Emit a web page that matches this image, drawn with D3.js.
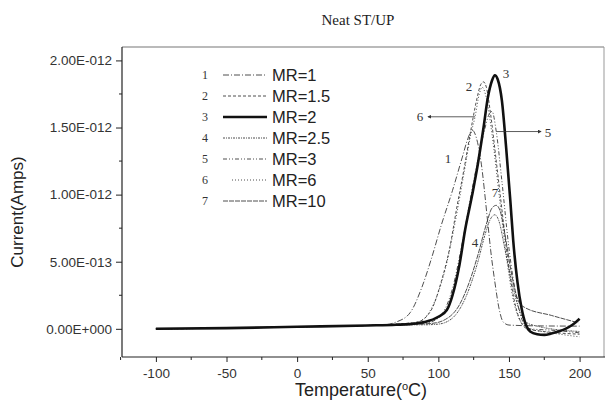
<!DOCTYPE html>
<html>
<head>
<meta charset="utf-8">
<script src="https://cdnjs.cloudflare.com/ajax/libs/d3/7.8.5/d3.min.js"></script>
<style>
  body { margin: 0; background: #fff; }
  svg { display: block; }
</style>
</head>
<body>
<svg id="chart" width="605" height="400"></svg>
<script>
// values in units of 1e-12 A
var UNIT = 1e-12;
var baseT = [-100, -50, 0, 50];
var baseV = [0.0, 0.005, 0.015, 0.025];

var seriesNames = ["MR=1", "MR=1.5", "MR=2", "MR=2.5", "MR=3", "MR=6", "MR=10"];
var seriesIds = ["1", "2", "3", "4", "5", "6", "7"];

var t1 = [62, 70, 80, 88, 95, 102, 110, 117, 121, 124, 127, 130, 135, 137, 140, 143, 146, 150, 170, 200];
var v1 = [0.03, 0.05, 0.12, 0.3, 0.52, 0.77, 1.03, 1.28, 1.42, 1.48, 1.42, 1.26, 0.79, 0.59, 0.35, 0.15, 0.05, 0.028, 0.022, 0.02];

var t2 = [70, 85, 95, 102, 108, 113, 118, 123, 127, 130, 132, 134, 137, 141, 146, 150, 154, 158, 163, 175, 200];
var v2 = [0.035, 0.05, 0.14, 0.35, 0.6, 0.9, 1.18, 1.48, 1.7, 1.82, 1.84, 1.8, 1.6, 1.25, 0.8, 0.45, 0.2, 0.06, 0.0, -0.02, -0.04];

var t3 = [70, 80, 90, 100, 106, 110, 115, 119, 124, 128, 132, 135, 138, 140, 142, 145, 148, 151, 153, 156, 159, 162, 165, 170, 175, 180, 185, 190, 195, 200];
var v3 = [0.03, 0.035, 0.05, 0.09, 0.14, 0.25, 0.48, 0.74, 1.0, 1.23, 1.5, 1.72, 1.85, 1.89, 1.86, 1.7, 1.35, 0.95, 0.66, 0.35, 0.15, 0.03, -0.02, -0.04, -0.045, -0.035, -0.02, 0.0, 0.03, 0.075];

var t4 = [70, 90, 100, 110, 120, 128, 133, 137, 140, 143, 147, 152, 157, 162, 170, 200];
var v4 = [0.03, 0.03, 0.035, 0.08, 0.25, 0.5, 0.7, 0.82, 0.85, 0.8, 0.6, 0.35, 0.15, 0.05, 0.02, -0.02];

var t5 = [70, 90, 100, 110, 118, 125, 132, 136, 138, 141, 145, 150, 155, 160, 165, 180, 200];
var v5 = [0.03, 0.04, 0.08, 0.3, 0.7, 1.1, 1.45, 1.6, 1.62, 1.47, 1.1, 0.6, 0.25, 0.05, 0.0, -0.01, -0.03];

var t6 = [70, 85, 95, 105, 112, 118, 123, 126, 129, 131, 134, 138, 143, 148, 153, 158, 165, 180, 200];
var v6 = [0.035, 0.05, 0.15, 0.45, 0.8, 1.15, 1.45, 1.58, 1.75, 1.8, 1.72, 1.45, 1.0, 0.55, 0.22, 0.06, 0.0, -0.03, -0.06];

var t7 = [70, 95, 105, 115, 122, 128, 134, 138, 141, 144, 148, 152, 157, 161, 180, 199];
var v7 = [0.03, 0.04, 0.07, 0.18, 0.35, 0.55, 0.78, 0.9, 0.92, 0.87, 0.65, 0.4, 0.2, 0.16, 0.1, 0.045];

var seriesT = [t1, t2, t3, t4, t5, t6, t7];
var seriesV = [v1, v2, v3, v4, v5, v6, v7];
var dashes = ["6,2,1,2", "3,2", null, "2,1,1,1", "4,2,1,2,1,2", "1,2", "5,1"];

var xTicks = [-100, -50, 0, 50, 100, 150, 200];
var yTicks = [0, 0.5, 1.0, 1.5, 2.0];

var svg = d3.select("#chart");
var mLeft = 122, mRight = 605, mTop = 47, mBottom = 357;
var sans = "Liberation Sans, Arial, sans-serif";
var serif = "Liberation Serif, serif";

var x = d3.scaleLinear().domain([-124, 218]).range([mLeft, mRight]);
var y = d3.scaleLinear().domain([-0.21, 2.1]).range([mBottom, mTop]);

function fmt(v) {
  var s = (v * UNIT).toExponential(2);
  var parts = s.split("e");
  var sign = parts[1][0];
  var num = parts[1].slice(1);
  while (num.length < 3) num = "0" + num;
  return parts[0] + "E" + sign + num;
}

// title
svg.append("text").attr("x", 358).attr("y", 25).attr("text-anchor", "middle")
  .attr("font-family", serif).attr("font-size", 15).attr("fill", "#222")
  .text("Neat ST/UP");

// frame
svg.append("line").attr("x1", mLeft).attr("x2", mRight - 1).attr("y1", mTop).attr("y2", mTop)
  .attr("stroke", "#777").attr("stroke-width", 1.2);
svg.append("line").attr("x1", mRight - 1).attr("x2", mRight - 1).attr("y1", mTop).attr("y2", mBottom)
  .attr("stroke", "#999").attr("stroke-width", 1);

// x axis
var xAxis = d3.axisBottom(x).tickValues(xTicks).tickSize(5).tickPadding(6).tickFormat(function(d) { return String(d); });
var gx = svg.append("g").attr("transform", "translate(0," + mBottom + ")").call(xAxis);
gx.select(".domain").attr("d", "M" + mLeft + ",0H" + mRight).attr("stroke", "#222").attr("stroke-width", 1.2);
gx.selectAll(".tick line").attr("stroke", "#222");
gx.selectAll(".tick text").attr("font-family", sans).attr("font-size", 13.5).attr("fill", "#333");
gx.selectAll(".minor").data(d3.range(-125, 201, 50)).enter().append("line")
  .attr("x1", function(d) { return x(d); }).attr("x2", function(d) { return x(d); })
  .attr("y1", 0).attr("y2", 3).attr("stroke", "#222");

// y axis
var yAxis = d3.axisLeft(y).tickValues(yTicks).tickSize(6).tickPadding(4).tickFormat(fmt);
var gy = svg.append("g").attr("transform", "translate(" + mLeft + ",0)").call(yAxis);
gy.select(".domain").attr("d", "M0," + mTop + "V" + mBottom).attr("stroke", "#222").attr("stroke-width", 1.2);
gy.selectAll(".tick line").attr("stroke", "#222");
gy.selectAll(".tick text").attr("font-family", sans).attr("font-size", 13.5).attr("fill", "#333");
gy.selectAll(".minor").data([0.25, 0.75, 1.25, 1.75]).enter().append("line")
  .attr("y1", function(d) { return y(d); }).attr("y2", function(d) { return y(d); })
  .attr("x1", 0).attr("x2", -3).attr("stroke", "#222");

// axis titles
svg.append("text").attr("x", 361).attr("y", 396).attr("text-anchor", "middle")
  .attr("font-family", sans).attr("font-size", 18).attr("fill", "#222")
  .html('Temperature(<tspan baseline-shift="super" font-size="11">o</tspan>C)');
svg.append("text").attr("transform", "translate(23,212) rotate(-90)").attr("text-anchor", "middle")
  .attr("font-family", sans).attr("font-size", 17).attr("fill", "#222")
  .text("Current(Amps)");

// curves
var line = d3.line()
  .x(function(d) { return x(d[0]); })
  .y(function(d) { return y(d[1]); })
  .curve(d3.curveMonotoneX);

svg.append("clipPath").attr("id", "clip").append("rect")
  .attr("x", mLeft).attr("y", mTop).attr("width", mRight - mLeft).attr("height", mBottom - mTop);

var plot = svg.append("g").attr("clip-path", "url(#clip)");
var order = [0, 1, 3, 4, 5, 6, 2];
order.forEach(function(i) {
  var pts = baseT.map(function(t, k) { return [t, baseV[k]]; })
    .concat(seriesT[i].map(function(t, k) { return [t, seriesV[i][k]]; }));
  plot.append("path").datum(pts)
    .attr("d", line)
    .attr("fill", "none")
    .attr("stroke", i === 2 ? "#111" : "#3a3a3a")
    .attr("stroke-width", i === 2 ? 2.6 : 0.9)
    .attr("stroke-dasharray", dashes[i]);
});

// legend
var legY = [75, 96, 117, 138, 159, 180, 201];
var leg = svg.append("g");
seriesNames.forEach(function(name, i) {
  var yy = legY[i];
  leg.append("text").attr("x", 205).attr("y", yy + 4).attr("text-anchor", "middle")
    .attr("font-family", serif).attr("font-size", 12).attr("fill", "#333")
    .text(seriesIds[i]);
  leg.append("line").attr("x1", i === 5 ? 232 : 223).attr("x2", 267).attr("y1", yy).attr("y2", yy)
    .attr("stroke", i === 2 ? "#111" : "#3a3a3a")
    .attr("stroke-width", i === 2 ? 2.6 : 0.9)
    .attr("stroke-dasharray", dashes[i]);
  leg.append("text").attr("x", 272).attr("y", yy + 6)
    .attr("font-family", sans).attr("font-size", 16.5).attr("fill", "#222")
    .text(name);
});

// curve labels
var labels = [["1", 448, 163], ["2", 469, 91], ["3", 506, 78], ["4", 475, 247], ["5", 548, 137], ["6", 420, 121], ["7", 495, 197]];
labels.forEach(function(l) {
  svg.append("text").attr("x", l[1]).attr("y", l[2]).attr("text-anchor", "middle")
    .attr("font-family", serif).attr("font-size", 13).attr("fill", "#333")
    .text(l[0]);
});

// arrows
svg.append("defs").append("marker").attr("id", "ah").attr("viewBox", "0 0 6 6")
  .attr("refX", 5).attr("refY", 3).attr("markerWidth", 5).attr("markerHeight", 5).attr("orient", "auto")
  .append("path").attr("d", "M0,0L6,3L0,6Z").attr("fill", "#333");
svg.append("line").attr("x1", x(126)).attr("y1", y(1.58)).attr("x2", 428).attr("y2", y(1.58))
  .attr("stroke", "#333").attr("stroke-width", 0.8).attr("marker-end", "url(#ah)");
svg.append("line").attr("x1", x(141)).attr("y1", y(1.47)).attr("x2", 541).attr("y2", y(1.47))
  .attr("stroke", "#333").attr("stroke-width", 0.8).attr("marker-end", "url(#ah)");
</script>
</body>
</html>
